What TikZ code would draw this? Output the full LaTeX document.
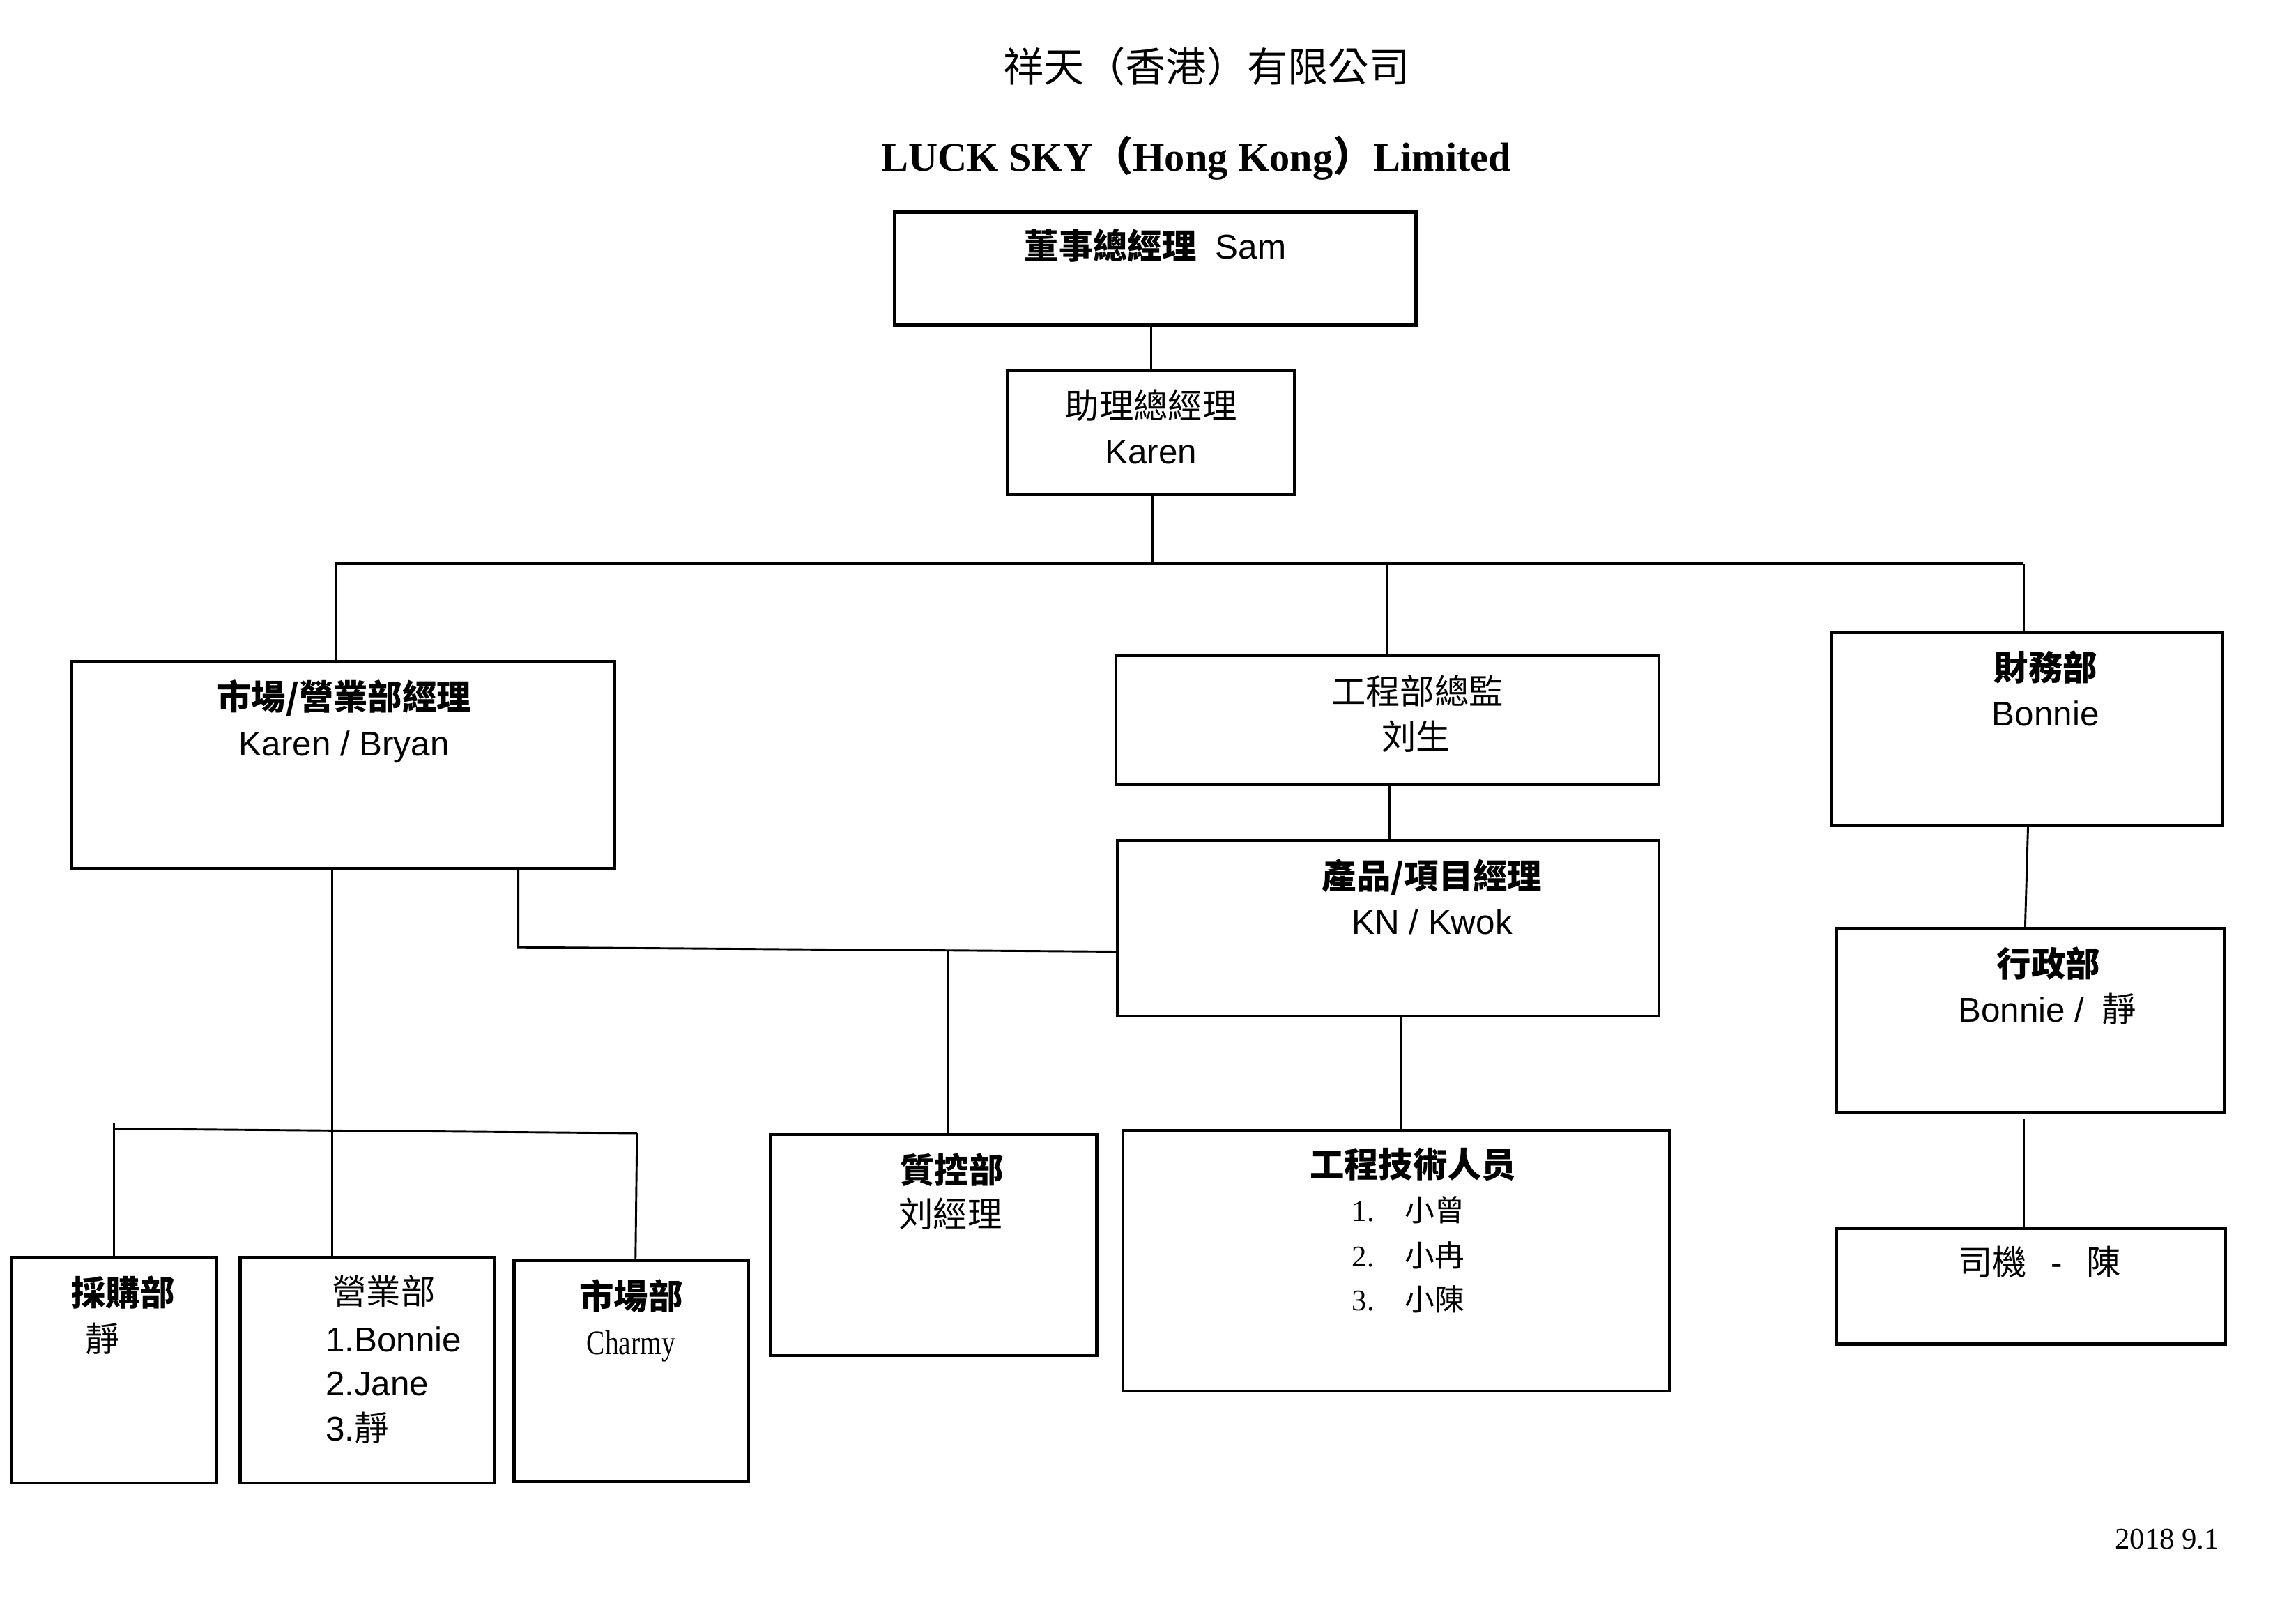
\documentclass[tikz,border=0pt]{standalone}
\usepackage{fontspec}
\setmainfont{Liberation Sans}
\newfontfamily\cjk{Noto Sans CJK TC}
\newfontfamily\serifL{Liberation Serif}
\newfontfamily\narrowserif[FakeStretch=0.8]{Liberation Serif}
\newcommand\fsz{\fontsize{12.7pt}{15pt}\selectfont}
\begin{document}
\begin{tikzpicture}[x=0.019cm,y=-0.019cm,
  box/.style n args={2}{draw,line width=1.1pt,inner sep=0pt,outer sep=0pt,anchor=north west,
     minimum width=#1*0.019cm,minimum height=#2*0.019cm},
  conn/.style={line width=0.75pt},
  t/.style={inner sep=0pt,anchor=base,font=\fsz},
  tl/.style={inner sep=0pt,anchor=base west,font=\fsz},
  li/.style={inner sep=0pt,anchor=base west,font=\fontsize{11pt}{13pt}\selectfont}]
\useasboundingbox (0,0) rectangle (1568,1096);
% titles
\node[inner sep=0pt,anchor=base,font=\fontsize{15pt}{18pt}\selectfont] (title1) at (824,56) {\cjk 祥天（香港）有限公司};
\node[inner sep=0pt,anchor=base,font=\fontsize{15pt}{18pt}\selectfont] (title2) at (817,117)
  {{\serifL\bfseries LUCK SKY}{\cjk\bfseries （}{\serifL\bfseries Hong Kong}{\cjk\bfseries ）}{\serifL\bfseries Limited}};
\node[inner sep=0pt,anchor=base east,font=\fontsize{11pt}{13pt}\selectfont] (date) at (1516,1058) {\serifL 2018 9.1};
% boxes
\node[box={356}{77}] (A) at (611,145) {};
\node[box={196}{85}] (B) at (688,253) {};
\node[box={371}{141}] (C) at (49,452) {};
\node[box={371}{88}] (D) at (762,448) {};
\node[box={267}{132}] (E) at (1251,432) {};
\node[box={370}{120}] (F) at (763,574) {};
\node[box={223}{151}] (G) at (526,775) {};
\node[box={373}{178}] (H) at (767,772) {};
\node[box={265}{126}] (I) at (1254,634) {};
\node[box={266}{79}] (J) at (1254,839) {};
\node[box={140}{154}] (K) at (8,859) {};
\node[box={174}{154}] (L) at (164,859) {};
\node[box={160}{151}] (M) at (351,861) {};
% texts
\node[t] (Atx) at (789,177) {{\cjk\bfseries 董事總經理}\hspace{0.55em}Sam};
\node[t] (Btx1) at (786,286) {\cjk 助理總經理};
\node[t] (Btx2) at (786,317) {Karen};
\node[t] (Ctx1) at (235,485) {\cjk\bfseries 市場/營業部經理};
\node[t] (Ctx2) at (235,516) {Karen / Bryan};
\node[t] (Dtx1) at (968,481) {\cjk 工程部總監};
\node[t] (Dtx2) at (967,512) {\cjk 刘生};
\node[t] (Etx1) at (1397,465) {\cjk\bfseries 財務部};
\node[t] (Etx2) at (1397,496) {Bonnie};
\node[t] (Ftx1) at (978,607) {\cjk\bfseries 產品/項目經理};
\node[t] (Ftx2) at (978,638) {KN / Kwok};
\node[t] (Gtx1) at (650,808) {\cjk\bfseries 質控部};
\node[t] (Gtx2) at (649,838) {\cjk 刘經理};
\node[t] (Htx) at (965,804) {\cjk\bfseries 工程技術人员};
\node[li] (H1) at (923,834) {\makebox[19.5pt][l]{\serifL 1.}{\cjk 小曾}};
\node[li] (H2) at (923,865) {\makebox[19.5pt][l]{\serifL 2.}{\cjk 小冉}};
\node[li] (H3) at (923,895) {\makebox[19.5pt][l]{\serifL 3.}{\cjk 小陳}};
\node[t] (Itx1) at (1399,667) {\cjk\bfseries 行政部};
\node[t] (Itx2) at (1398,698) {Bonnie /\hspace{0.5em}{\cjk 靜}};
\node[t] (Jtx) at (1393,871) {{\cjk 司機}\hspace{0.7em}-\hspace{0.7em}{\cjk 陳}};
\node[t] (Ktx1) at (84,892) {\cjk\bfseries 採購部};
\node[t] (Ktx2) at (70,923) {\cjk 靜};
\node[t] (Ltx1) at (262,891) {\cjk 營業部};
\node[tl] (L1) at (222,923) {1.Bonnie};
\node[tl] (L2) at (222,953) {2.Jane};
\node[tl] (L3) at (222,984) {3.{\cjk 靜}};
\node[t] (Mtx1) at (431,894) {\cjk\bfseries 市場部};
\node[t] (Mtx2) at (431,925) {\narrowserif Charmy};
% connectors
\coordinate (trB) at (787,385);
\coordinate (trC) at (229,385);
\coordinate (trD) at (947,385);
\coordinate (trE) at (1382,385);
\draw[conn] (B.north -| 786,0) -- (A.south -| 786,0);
\draw[conn] (B.south -| trB) -- (trB);
\draw[conn] (trC) -- (trE);
\draw[conn] (trC) -- (trC |- C.north);
\draw[conn] (trD) -- (trD |- D.north);
\draw[conn] (trE) -- (trE |- E.north);
\coordinate (dF) at (949,0);
\draw[conn] (D.south -| dF) -- (F.north -| dF);
\coordinate (cq) at (354,647);
\coordinate (fq) at (763,650);
\coordinate (gq) at (647,649);
\draw[conn] (C.south -| cq) -- (cq) -- (fq) -- (F.west |- fq);
\draw[conn] (gq) -- (gq |- G.north);
\coordinate (hq) at (957,0);
\draw[conn] (F.south -| hq) -- (H.north -| hq);
\coordinate (ei1) at (1385,564);
\coordinate (ei2) at (1383,634);
\draw[conn] (ei1) -- (ei2);
\coordinate (ij) at (1382,764);
\draw[conn] (ij) -- (J.north -| ij);
\coordinate (cl) at (227,0);
\draw[conn] (C.south -| cl) -- (L.north -| cl);
\coordinate (bk) at (78,771);
\coordinate (bm) at (435,774);
\coordinate (bm2) at (434,861);
\draw[conn] (bk) -- (bm);
\draw[conn] (78,767) -- (K.north -| bk);
\draw[conn] (bm) -- (bm2);
\end{tikzpicture}
\end{document}
